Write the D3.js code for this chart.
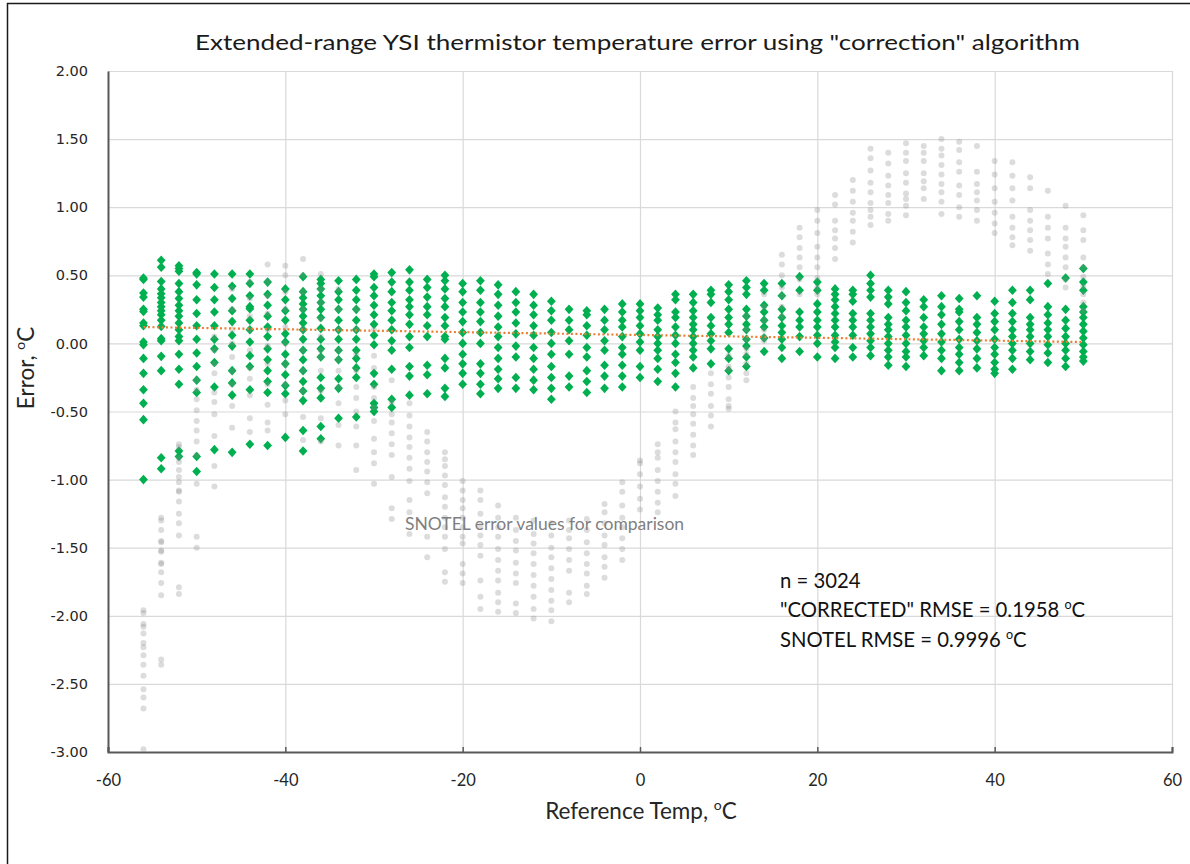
<!DOCTYPE html>
<html><head><meta charset="utf-8">
<script src="https://cdn.jsdelivr.net/npm/d3@7"></script>
<style>body{margin:0;background:#fff} svg{display:block}</style>
</head><body><svg id="c" width="1190" height="864"></svg>
<script>
// ---------------- data ----------------
const tempC = [-56,-54,-52,-50,-48,-46,-44,-42,-40,-38,-36,-34,-32,-30,-28,-26,-24,-22,-20,-18,-16,-14,-12,-10,-8,-6,-4,-2,0,2,4,6,8,10,12,14,16,18,20,22,24,26,28,30,32,34,36,38,40,42,44,46,48,50];

const correctedErr = [
 [0.48,0.47,0.37,0.34,0.25,0.235,0.15,0.13,0.01,-0.01,-0.11,-0.22,-0.34,-0.44,-0.56,-1.00],
 [0.61,0.56,0.455,0.40,0.365,0.335,0.30,0.27,0.24,0.21,0.17,0.125,0.035,0.02,-0.095,-0.20,-0.84,-0.92],
 [0.57,0.55,0.53,0.44,0.38,0.33,0.28,0.24,0.20,0.15,0.10,0.05,0.02,-0.08,-0.19,-0.30,-0.79,-0.83],
 [0.52,0.51,0.43,0.32,0.22,0.13,0.03,-0.07,-0.17,-0.27,-0.36,-0.83,-0.94],
 [0.51,0.41,0.32,0.23,0.13,0.03,-0.04,-0.14,-0.32,-0.78],
 [0.51,0.42,0.33,0.24,0.16,0.06,-0.02,-0.20,-0.29,-0.38,-0.80],
 [0.51,0.44,0.35,0.27,0.255,0.17,0.10,0.01,-0.09,-0.17,-0.34,-0.74],
 [0.45,0.36,0.28,0.20,0.12,0.05,-0.04,-0.12,-0.20,-0.28,-0.36,-0.75],
 [0.40,0.32,0.24,0.17,0.07,0.01,-0.08,-0.15,-0.23,-0.31,-0.37,-0.69],
 [0.49,0.38,0.335,0.29,0.25,0.20,0.15,0.10,0.03,-0.05,-0.12,-0.20,-0.28,-0.35,-0.42,-0.64,-0.79],
 [0.47,0.44,0.40,0.35,0.30,0.25,0.19,0.11,0.03,-0.04,-0.10,-0.25,-0.33,-0.40,-0.61,-0.70],
 [0.46,0.38,0.32,0.25,0.17,0.10,0.03,-0.05,-0.12,-0.26,-0.33,-0.55],
 [0.47,0.39,0.32,0.25,0.17,0.10,0.03,-0.05,-0.11,-0.18,-0.25,-0.54],
 [0.51,0.49,0.41,0.35,0.28,0.21,0.14,0.06,-0.01,-0.22,-0.30,-0.44,-0.47,-0.50],
 [0.52,0.45,0.38,0.30,0.24,0.17,0.10,0.02,-0.05,-0.19,-0.41,-0.47],
 [0.54,0.45,0.39,0.32,0.27,0.21,0.14,0.05,-0.03,-0.17,-0.24,-0.38],
 [0.47,0.41,0.34,0.27,0.21,0.13,0.05,-0.16,-0.23,-0.37],
 [0.50,0.46,0.40,0.33,0.27,0.19,0.13,0.05,0.03,-0.11,-0.18,-0.33,-0.39],
 [0.44,0.38,0.30,0.23,0.16,0.08,0.00,-0.08,-0.15,-0.22,-0.30],
 [0.46,0.39,0.30,0.23,0.16,0.08,0.00,-0.15,-0.22,-0.30,-0.37],
 [0.43,0.36,0.28,0.20,0.12,0.05,-0.03,-0.11,-0.19,-0.26,-0.33],
 [0.38,0.30,0.23,0.15,0.07,-0.02,-0.10,-0.25,-0.33],
 [0.36,0.28,0.21,0.13,0.06,-0.03,-0.11,-0.19,-0.27,-0.34],
 [0.31,0.24,0.17,0.08,0.00,-0.08,-0.17,-0.25,-0.33,-0.41],
 [0.25,0.17,0.10,0.02,-0.08,-0.24,-0.32],
 [0.24,0.21,0.13,0.06,-0.03,-0.10,-0.20,-0.28,-0.36],
 [0.25,0.17,0.10,0.02,-0.05,-0.16,-0.24,-0.33],
 [0.29,0.23,0.17,0.12,0.05,-0.03,-0.08,-0.16,-0.24,-0.32],
 [0.29,0.24,0.19,0.13,0.07,0.01,-0.05,-0.17,-0.25],
 [0.26,0.21,0.17,0.10,0.05,0.00,-0.05,-0.11,-0.19,-0.28],
 [0.36,0.32,0.23,0.19,0.12,0.06,0.00,-0.08,-0.14,-0.22,-0.32],
 [0.36,0.30,0.24,0.19,0.14,0.10,0.05,0.00,-0.05,-0.10,-0.18],
 [0.39,0.36,0.30,0.19,0.13,0.07,0.02,-0.04,-0.15],
 [0.43,0.38,0.32,0.25,0.19,0.14,0.08,-0.04,-0.11,-0.20],
 [0.46,0.41,0.36,0.25,0.20,0.14,0.10,0.03,-0.02,-0.10,-0.17],
 [0.44,0.39,0.28,0.23,0.17,0.12,0.04,-0.06],
 [0.44,0.35,0.25,0.19,0.13,0.08,0.03,-0.03,-0.11],
 [0.49,0.39,0.23,0.17,0.12,0.05,-0.06],
 [0.45,0.39,0.29,0.23,0.17,0.12,0.06,0.00,-0.10],
 [0.40,0.36,0.32,0.27,0.22,0.17,0.12,0.06,0.01,-0.03,-0.11],
 [0.39,0.36,0.31,0.22,0.17,0.12,0.06,-0.03,-0.10],
 [0.50,0.44,0.39,0.34,0.22,0.17,0.12,0.07,0.02,-0.03,-0.09],
 [0.39,0.34,0.29,0.19,0.14,0.10,0.05,0.00,-0.05,-0.10,-0.16],
 [0.38,0.30,0.24,0.17,0.12,0.06,0.00,-0.06,-0.10,-0.17],
 [0.32,0.27,0.19,0.12,0.07,0.02,-0.03,-0.09],
 [0.35,0.27,0.21,0.14,0.07,0.01,-0.05,-0.11,-0.20],
 [0.33,0.25,0.23,0.16,0.10,0.03,-0.03,-0.08,-0.14,-0.20],
 [0.35,0.19,0.14,0.08,0.02,-0.04,-0.11,-0.18],
 [0.31,0.22,0.16,0.10,0.03,-0.03,-0.08,-0.14,-0.19,-0.22],
 [0.39,0.30,0.22,0.16,0.10,0.05,0.00,-0.05,-0.11,-0.19],
 [0.39,0.32,0.19,0.14,0.10,0.05,0.00,-0.06,-0.12],
 [0.44,0.27,0.21,0.15,0.10,0.05,-0.01,-0.07,-0.14],
 [0.48,0.25,0.17,0.11,0.05,0.00,-0.05,-0.11,-0.17],
 [0.55,0.45,0.39,0.27,0.23,0.19,0.14,0.09,0.04,-0.01,-0.06,-0.10,-0.13]
];

const snotelErr = [
 [-1.96,-1.98,-2.06,-2.08,-2.13,-2.20,-2.23,-2.29,-2.36,-2.44,-2.54,-2.60,-2.68,-2.98],
 [-1.28,-1.30,-1.37,-1.45,-1.46,-1.52,-1.53,-1.61,-1.62,-1.68,-1.76,-1.85,-2.32,-2.36],
 [-0.74,-0.76,-0.84,-0.87,-0.93,-0.98,-1.02,-1.08,-1.09,-1.16,-1.25,-1.32,-1.41,-1.79,-1.84],
 [-0.27,-0.34,-0.41,-0.49,-0.57,-0.64,-0.72,-0.82,-1.03,-1.42,-1.50],
 [0.05,-0.05,-0.15,-0.22,-0.36,-0.43,-0.52,-0.68,-0.90,-1.05],
 [0.40,0.25,0.10,0.00,-0.10,-0.20,-0.30,-0.46,-0.62],
 [0.45,0.33,0.20,0.10,-0.05,-0.18,-0.26,-0.38,-0.55,-0.65],
 [0.58,0.45,0.35,0.22,0.10,-0.02,-0.15,-0.30,-0.45,-0.58,-0.64],
 [0.57,0.50,0.38,0.25,0.12,0.00,-0.15,-0.30,-0.42,-0.52],
 [0.62,0.50,0.38,0.25,0.10,-0.05,-0.20,-0.35,-0.54,-0.71],
 [0.51,0.40,0.30,0.18,0.05,-0.05,-0.10,-0.20,-0.35,-0.55,-0.72],
 [0.40,0.25,0.10,-0.05,-0.12,-0.20,-0.32,-0.44,-0.60,-0.75],
 [0.25,0.10,-0.08,-0.20,-0.32,-0.40,-0.50,-0.61,-0.75,-0.93],
 [0.10,-0.09,-0.18,-0.32,-0.40,-0.47,-0.57,-0.70,-0.80,-0.88,-1.03],
 [-0.27,-0.43,-0.52,-0.58,-0.66,-0.74,-0.82,-0.98,-1.21,-1.29],
 [-0.44,-0.53,-0.61,-0.69,-0.76,-0.84,-0.92,-1.01,-1.15,-1.24,-1.40],
 [-0.65,-0.72,-0.80,-0.87,-0.94,-1.02,-1.10,-1.42,-1.57],
 [-0.80,-0.85,-0.90,-0.97,-1.04,-1.13,-1.20,-1.28,-1.35,-1.42,-1.51,-1.68,-1.75],
 [-1.01,-1.08,-1.15,-1.21,-1.28,-1.35,-1.42,-1.47,-1.62,-1.69,-1.76],
 [-1.08,-1.15,-1.25,-1.34,-1.41,-1.48,-1.56,-1.74,-1.86,-1.95],
 [-1.19,-1.28,-1.35,-1.42,-1.51,-1.59,-1.67,-1.74,-1.83,-1.90,-1.97],
 [-1.28,-1.37,-1.45,-1.52,-1.61,-1.69,-1.76,-1.91,-1.98],
 [-1.30,-1.40,-1.47,-1.54,-1.62,-1.70,-1.78,-1.86,-1.95,-2.02],
 [-1.32,-1.41,-1.50,-1.57,-1.65,-1.73,-1.81,-1.89,-1.96,-2.04],
 [-1.30,-1.37,-1.43,-1.51,-1.59,-1.67,-1.83,-1.90],
 [-1.29,-1.37,-1.46,-1.54,-1.62,-1.69,-1.78,-1.84],
 [-1.18,-1.24,-1.32,-1.41,-1.48,-1.57,-1.64,-1.72],
 [-1.02,-1.09,-1.19,-1.28,-1.35,-1.43,-1.51,-1.59],
 [-0.86,-0.88,-0.96,-1.05,-1.14,-1.22],
 [-0.74,-0.80,-0.84,-0.93,-1.01,-1.09,-1.17,-1.24],
 [-0.50,-0.58,-0.63,-0.72,-0.80,-0.87,-0.96,-1.03,-1.12],
 [-0.32,-0.40,-0.46,-0.52,-0.59,-0.67,-0.75,-0.82],
 [-0.22,-0.30,-0.37,-0.46,-0.53,-0.61],
 [-0.09,-0.17,-0.19,-0.25,-0.32,-0.41,-0.46,-0.48],
 [0.20,0.10,0.03,-0.04,-0.08,-0.15,-0.22,-0.27],
 [0.36,0.27,0.17,0.10,0.05,0.02],
 [0.65,0.58,0.50,0.41,0.35,0.27,0.20],
 [0.85,0.78,0.70,0.63,0.56,0.47,0.36],
 [0.98,0.90,0.81,0.71,0.63,0.56,0.48,0.41,0.36],
 [1.09,1.02,0.90,0.83,0.77,0.70,0.62],
 [1.20,1.12,1.04,0.96,0.90,0.82,0.74],
 [1.43,1.36,1.27,1.18,1.11,1.03,0.98,0.93,0.87],
 [1.40,1.32,1.23,1.16,1.09,1.03,0.95,0.90],
 [1.47,1.40,1.34,1.25,1.18,1.10,1.06,1.01,0.94],
 [1.45,1.40,1.34,1.25,1.19,1.14,1.06],
 [1.50,1.43,1.38,1.31,1.24,1.17,1.11,1.04,0.95],
 [1.48,1.42,1.33,1.26,1.16,1.09,1.00,0.93],
 [1.45,1.26,1.17,1.11,1.05,0.98,0.90],
 [1.34,1.24,1.14,1.04,0.96,0.88,0.81],
 [1.33,1.23,1.14,1.05,0.93,0.85,0.78,0.72],
 [1.22,1.14,0.98,0.90,0.83,0.76,0.68],
 [1.12,0.93,0.85,0.77,0.66,0.58,0.51],
 [1.01,0.85,0.77,0.71,0.63,0.56,0.47,0.41],
 [0.94,0.83,0.76,0.63,0.56,0.49,0.42,0.36,0.30,0.24]
];

const trendTemp = [-56, 50];
const trendErr = [0.12, 0.01];

const xTicks = [-60,-40,-20,0,20,40,60];
const yTicks = [2.0,1.5,1.0,0.5,0.0,-0.5,-1.0,-1.5,-2.0,-2.5,-3.0];

const titleText = 'Extended-range YSI thermistor temperature error using "correction" algorithm';
const statLines = ['n = 3024', '"CORRECTED" RMSE = 0.1958 ', 'SNOTEL RMSE = 0.9996 '];
const snotelNote = 'SNOTEL error values for comparison';

// ---------------- chart ----------------
const svg = d3.select('#c');
const M = {l:108, r:1172, t:71, b:752};
const x = d3.scaleLinear().domain([-60,60]).range([M.l, M.r]);
const y = d3.scaleLinear().domain([-3,2]).range([M.b, M.t]);
const FONT = 'Lato, "Open Sans", sans-serif';

// outer border
svg.append('rect').attr('x',7.5).attr('y',3.5).attr('width',1200).attr('height',900)
  .attr('fill','none').attr('stroke','#1a1a1a').attr('stroke-width',1.5);

// gridlines
const gy = svg.append('g').attr('transform',`translate(${M.l},0)`)
  .call(d3.axisLeft(y).tickValues(yTicks).tickSize(-(M.r-M.l)).tickFormat(''));
gy.select('.domain').remove();
gy.selectAll('line').attr('stroke','#d9d9d9').attr('stroke-width',1.2);
const gx = svg.append('g').attr('transform',`translate(0,${M.b})`)
  .call(d3.axisBottom(x).tickValues(xTicks).tickSize(-(M.b-M.t)).tickFormat(''));
gx.select('.domain').remove();
gx.selectAll('line').attr('stroke','#d9d9d9').attr('stroke-width',1.2);

// axes lines + labels
const ax = svg.append('g').attr('transform',`translate(0,${M.b})`)
  .call(d3.axisBottom(x).tickValues(xTicks).tickSize(-5).tickPadding(22).tickFormat(d => String(d)));
ax.select('.domain').attr('stroke','#595959').attr('stroke-width',2);
ax.selectAll('line').attr('stroke','#595959').attr('stroke-width',1.5);
ax.selectAll('text').attr('font-family',FONT).attr('font-size',16.5).attr('fill','#262626');

const ay = svg.append('g').attr('transform',`translate(${M.l},0)`)
  .call(d3.axisLeft(y).tickValues(yTicks).tickSize(0).tickPadding(20).tickFormat(d => d.toFixed(2)));
ay.select('.domain').attr('stroke','#595959').attr('stroke-width',2);
ay.selectAll('text').attr('font-family','"DejaVu Sans", Verdana, sans-serif').attr('font-size',14.5).attr('fill','#262626');

// corrected (green diamonds)
const greenPts = correctedErr.flatMap((col,i) => col.map(v => ({t: tempC[i], e: v})));
const diamond = 'M0,-4.8L4.4,0L0,4.8L-4.4,0Z';
svg.append('g').selectAll('path').data(greenPts).join('path')
  .attr('d', diamond)
  .attr('transform', d => `translate(${x(d.t)},${y(d.e)})`)
  .attr('fill','#00b050');

// SNOTEL (faint gray dots)
const grayPts = snotelErr.flatMap((col,i) => col.map(v => ({t: tempC[i], e: v})));
svg.append('g').selectAll('circle').data(grayPts).join('circle')
  .attr('cx', d => x(d.t)).attr('cy', d => y(d.e)).attr('r', 3)
  .attr('fill','#8c8c8c').attr('fill-opacity',0.3);

// trend line
svg.append('path')
  .datum(trendTemp.map((t,i) => [t, trendErr[i]]))
  .attr('d', d3.line().x(d => x(d[0])).y(d => y(d[1])))
  .attr('fill','none').attr('stroke','#ed7d31').attr('stroke-width',2.2)
  .attr('stroke-dasharray','2,2.5');

// title
svg.append('text').attr('x', 195).attr('y', 50)
  .attr('font-family',FONT).attr('font-size',21).attr('fill','#1a1a1a')
  .attr('textLength', 885).attr('lengthAdjust','spacingAndGlyphs')
  .text(titleText);

function degLabel(sel, base, fs){
  sel.append('tspan').text(base);
  sel.append('tspan').attr('dy', -0.38*fs).attr('font-size', 0.62*fs).text('o');
  sel.append('tspan').attr('dy', 0.38*fs).text('C');
}

// axis titles
degLabel(svg.append('text').attr('x', 641).attr('y', 819).attr('text-anchor','middle')
  .attr('font-family',FONT).attr('font-size',22.5).attr('fill','#262626'),
  'Reference Temp, ', 22.5);
degLabel(svg.append('text').attr('transform','translate(34,368) rotate(-90)').attr('text-anchor','middle')
  .attr('font-family',FONT).attr('font-size',22.5).attr('fill','#262626'),
  'Error, ', 22.5);

// stats annotation
const SF = 20.3;
const st = svg.append('g').attr('font-family',FONT).attr('font-size',SF).attr('fill','#111');
st.append('text').attr('x',780).attr('y',588).text(statLines[0]);
degLabel(st.append('text').attr('x',780).attr('y',617), statLines[1], SF);
degLabel(st.append('text').attr('x',780).attr('y',647), statLines[2], SF);

// SNOTEL note
svg.append('text').attr('x',405).attr('y',530)
  .attr('font-family',FONT).attr('font-size',17.5).attr('fill','#7f7f7f')
  .text(snotelNote);
</script></body></html>
